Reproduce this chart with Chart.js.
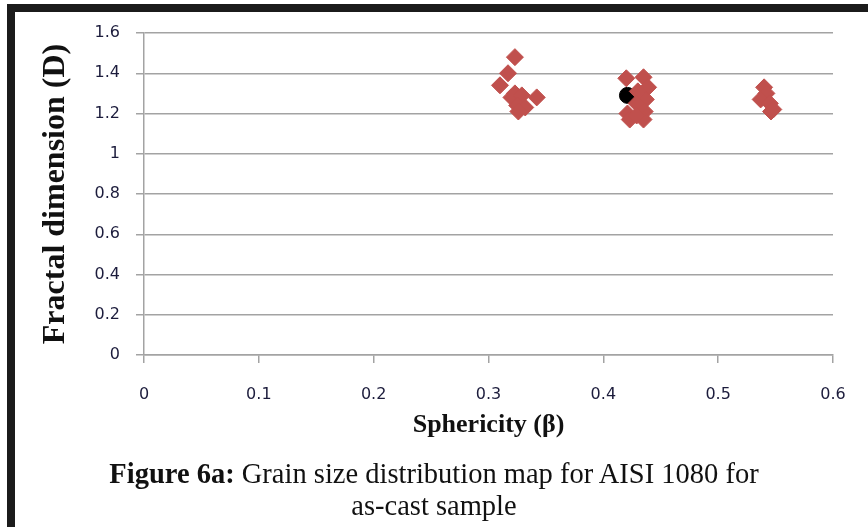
<!DOCTYPE html>
<html>
<head>
<meta charset="utf-8">
<script src="https://cdn.jsdelivr.net/npm/chart.js@4.4.0/dist/chart.umd.min.js"></script>
<style>
  html, body { margin: 0; padding: 0; background: #fff; }
  #wrap { position: relative; width: 868px; height: 527px; overflow: hidden; background: #fff; }
  #c { position: absolute; left: 0; top: 0; }
  .bar { position: absolute; background: #1b1b1b; }
  #caption { position: absolute; left: 0; top: 458px; width: 868px; text-align: center;
    font-family: "Liberation Serif", "Times New Roman", serif; font-size: 28.5px; line-height: 32px; color: #111; }
  #caption b { font-weight: bold; }
</style>
</head>
<body>
<div id="wrap">
  <canvas id="c" width="868" height="527"></canvas>
  <div class="bar" style="left:7px; top:4px; width:861px; height:8px;"></div>
  <div class="bar" style="left:7px; top:4px; width:8px; height:523px;"></div>
  <div id="caption"><b>Figure 6a:</b> Grain size distribution map for AISI 1080 for<br>as-cast sample</div>
</div>
<script>
// Red diamonds: sphericity (x) and fractal dimension (y)
const sphericity = [
  0.323, 0.317, 0.310, 0.320, 0.323, 0.329, 0.342, 0.325, 0.332, 0.326,
  0.420, 0.435, 0.439, 0.437, 0.430, 0.429, 0.421, 0.436, 0.423, 0.435, 0.429,
  0.540, 0.542, 0.537, 0.545, 0.548, 0.546
];
const fractalDim = [
  1.48, 1.40, 1.34, 1.28, 1.30, 1.29, 1.28, 1.24, 1.23, 1.21,
  1.375, 1.38, 1.33, 1.27, 1.31, 1.25, 1.20, 1.21, 1.17, 1.17, 1.19,
  1.33, 1.30, 1.27, 1.25, 1.22, 1.21
];
// Black point
const meanSphericity = [0.421];
const meanFractal = [1.29];

const xTicks = [0, 0.1, 0.2, 0.3, 0.4, 0.5, 0.6];
const yTicks = [0, 0.2, 0.4, 0.6, 0.8, 1, 1.2, 1.4, 1.6];

const redPts = sphericity.map((x, i) => ({ x: x, y: fractalDim[i] }));
const blackPts = meanSphericity.map((x, i) => ({ x: x, y: meanFractal[i] }));

const gridColor = '#a3a3a3';
const tickFont = { family: '"DejaVu Sans", sans-serif', size: 16 };

new Chart(document.getElementById('c'), {
  type: 'scatter',
  data: {
    datasets: [
      {
        label: 'grains',
        data: redPts,
        pointStyle: 'rectRot',
        pointRadius: 8.5,
        pointHoverRadius: 8.5,
        backgroundColor: '#c0504d',
        borderColor: '#c0504d',
        borderWidth: 1
      },
      {
        label: 'mean',
        data: blackPts,
        pointStyle: 'circle',
        pointRadius: 8,
        pointHoverRadius: 8,
        backgroundColor: '#000',
        borderColor: '#000',
        borderWidth: 1
      }
    ]
  },
  options: {
    responsive: false,
    animation: false,
    events: [],
    layout: { padding: { left: 0, right: 35, top: 33, bottom: 82 } },
    plugins: { legend: { display: false }, tooltip: { enabled: false } },
    scales: {
      x: {
        type: 'linear',
        min: 0, max: 0.6,
        afterBuildTicks: (s) => { s.ticks = xTicks.map(v => ({ value: v })); },
        afterFit: (s) => { s.height = 90; },
        ticks: { font: tickFont, color: '#1c1c3c', padding: 22,
          callback: (v) => String(v) },
        grid: { drawOnChartArea: false, drawTicks: true, tickLength: 8, color: gridColor, lineWidth: 1.5 },
        border: { color: gridColor, width: 1.5 },
        title: {
          display: true,
          text: 'Sphericity (β)',
          font: { family: '"Liberation Serif", "Times New Roman", serif', size: 26, weight: 'bold' },
          color: '#111',
          padding: { top: 0, bottom: 4 }
        }
      },
      y: {
        type: 'linear',
        min: 0, max: 1.6,
        afterBuildTicks: (s) => { s.ticks = yTicks.map(v => ({ value: v })); },
        afterFit: (s) => { s.width = 144; },
        ticks: { font: tickFont, color: '#1c1c3c', padding: 16,
          callback: (v) => String(v) },
        grid: { drawOnChartArea: true, drawTicks: true, tickLength: 8, color: gridColor, lineWidth: 1.5 },
        border: { color: gridColor, width: 1.5 },
        title: {
          display: true,
          text: 'Fractal dimension (D)',
          font: { family: '"Liberation Serif", "Times New Roman", serif', size: 32, weight: 'bold' },
          color: '#111',
          padding: { top: 37, bottom: 0 }
        }
      }
    }
  }
});
</script>
</body>
</html>
